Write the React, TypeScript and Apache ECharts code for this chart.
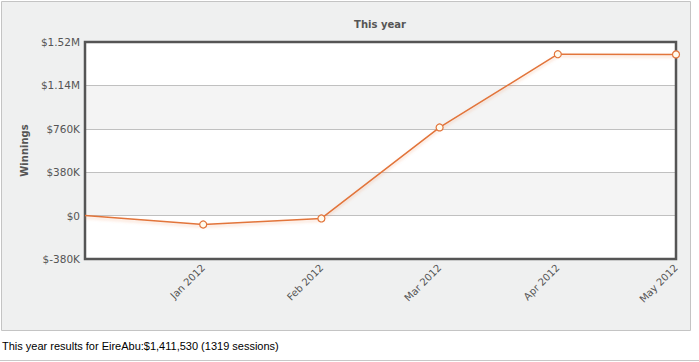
import React, { useEffect, useRef } from "react";
import * as echarts from "echarts";

const categories = ["", "Jan 2012", "Feb 2012", "Mar 2012", "Apr 2012", "May 2012"];
const winnings = [0, -78000, -25000, 772000, 1413000, 1411530];
const yTicks = { min: -380000, max: 1520000, interval: 380000 };
const titleText = "This year";
const yName = "Winnings";
const footerText = "This year results for EireAbu:$1,411,530 (1319 sessions)";

function fmt(v: number): string {
  if (v === 0) return "$0";
  const a = Math.abs(v);
  const s = v < 0 ? "-" : "";
  if (a >= 1000000) return "$" + s + (a / 1000000).toFixed(2) + "M";
  return "$" + s + Math.round(a / 1000) + "K";
}

const GRID = { left: 85, top: 42, width: 591, height: 217 };

export default function App() {
  const ref = useRef<HTMLDivElement>(null);
  useEffect(() => {
    document.body.style.margin = "0";
    const chart = echarts.init(ref.current!, null, { renderer: "svg" });
    chart.setOption({
      animation: false,
      backgroundColor: "#ffffff",
      textStyle: { fontFamily: "DejaVu Sans" },
      graphic: [
        {
          type: "rect",
          z: -10,
          silent: true,
          shape: { x: 1.5, y: 1.5, width: 689, height: 329 },
          style: { fill: "#eff0f0", stroke: "#c4c4c4", lineWidth: 1 },
        },
        {
          type: "rect",
          z: 1,
          silent: true,
          shape: { x: GRID.left, y: GRID.top, width: GRID.width, height: GRID.height },
          style: { fill: "none", stroke: "#555555", lineWidth: 2.5 },
        },
        {
          type: "line",
          silent: true,
          shape: { x1: 0, y1: 360.5, x2: 699, y2: 360.5 },
          style: { stroke: "#c8c8c8", lineWidth: 1 },
        },
        {
          type: "text",
          x: 380,
          y: 24,
          style: {
            text: titleText,
            font: "bold 10px 'DejaVu Sans'",
            fill: "#555555",
            textAlign: "center",
            textVerticalAlign: "middle",
          },
        },
        {
          type: "text",
          x: 2,
          y: 346,
          style: {
            text: footerText,
            font: "11px 'Liberation Sans', Arial, sans-serif",
            fill: "#000000",
            textVerticalAlign: "middle",
          },
        },
      ],
      grid: {
        left: GRID.left,
        top: GRID.top,
        width: GRID.width,
        height: GRID.height,
        show: false,
        containLabel: false,
      },
      xAxis: {
        type: "category",
        data: categories,
        boundaryGap: false,
        axisLine: { show: false },
        axisTick: { show: false },
        axisLabel: {
          rotate: 45,
          margin: 7,
          interval: 0,
          color: "#555555",
          fontSize: 10,
          fontFamily: "DejaVu Sans",
        },
        splitLine: { show: false },
      },
      yAxis: {
        type: "value",
        min: yTicks.min,
        max: yTicks.max,
        interval: yTicks.interval,
        name: yName,
        nameLocation: "middle",
        nameGap: 55,
        nameRotate: 90,
        nameTextStyle: { fontSize: 10, fontWeight: "bold", color: "#555555", fontFamily: "DejaVu Sans" },
        axisLine: { show: false },
        axisTick: { show: false },
        axisLabel: {
          formatter: fmt,
          color: "#555555",
          fontSize: 10.5,
          margin: 5,
          fontFamily: "DejaVu Sans",
        },
        splitLine: { show: true, lineStyle: { color: "#c0c0c0", width: 1 } },
        splitArea: { show: true, areaStyle: { color: ["#ffffff", "#f4f4f4"] } },
      },
      series: [
        {
          type: "line",
          data: winnings.map((v, i) => (i === 0 ? { value: v, symbol: "none" } : v)),
          symbol: "circle",
          symbolSize: 7,
          showSymbol: true,
          lineStyle: {
            color: "#e2743a",
            width: 1.5,
            shadowColor: "rgba(240,150,100,0.4)",
            shadowBlur: 3,
            shadowOffsetY: 2,
          },
          itemStyle: { color: "#fffbee", borderColor: "#e2743a", borderWidth: 1.2 },
          z: 3,
        },
      ],
    });
    return () => chart.dispose();
  }, []);
  return (
    <div
      ref={ref}
      style={{ position: "absolute", left: 0, top: 0, width: 699, height: 362 }}
    />
  );
}
